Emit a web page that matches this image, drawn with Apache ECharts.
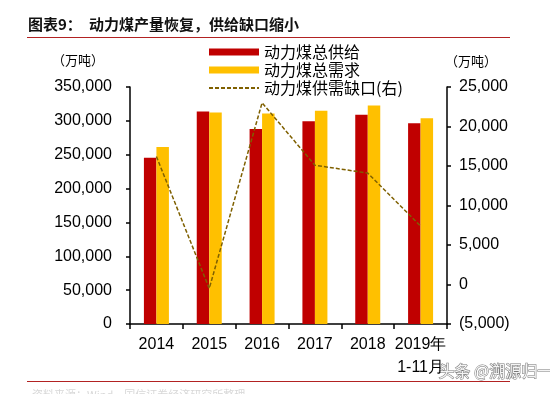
<!DOCTYPE html>
<html><head><meta charset="utf-8">
<script src="https://cdn.jsdelivr.net/npm/echarts@6/dist/echarts.min.js"></script>
<style>html,body{margin:0;padding:0;background:#fff}#c{width:550px;height:394px}</style>
</head><body><div id="c"></div>
<script>
const categories = ['2014','2015','2016','2017','2018','2019年\n1-11月'];
const supply = [245500, 314000, 288000, 299500, 309000, 296500];
const demand = [261500, 312500, 311000, 315000, 322500, 304000];
const gap = [16200, -500, 23000, 15100, 14100, 7400];
const seriesNames = ['动力煤总供给','动力煤总需求','动力煤供需缺口(右)'];

const fmt = v => { const s = Math.abs(v).toLocaleString('en-US'); return v < 0 ? '(' + s + ')' : s; };
const numFont = 'Liberation Sans, Arial, sans-serif';
const cjk = '"Noto Sans CJK SC", sans-serif';

const chart = echarts.init(document.getElementById('c'), null, {renderer:'canvas'});
chart.setOption({
  animation: false,
  backgroundColor: '#fff',
  grid: {left: 130, right: 103, top: 87, bottom: 70},
  legend: {
    orient: 'vertical', left: 203, top: 39, itemWidth: 50, itemHeight: 7, itemGap: 2,
    textStyle: {fontFamily: cjk, fontSize: 16, color: '#000'},
    data: [
      {name: seriesNames[0], icon: 'rect'},
      {name: seriesNames[1], icon: 'rect'},
      {name: seriesNames[2], itemStyle: {opacity: 0}}
    ]
  },
  xAxis: {
    type: 'category', data: categories,
    axisLine: {lineStyle: {color: '#000', width: 1.5}},
    axisTick: {show: true, length: 5, lineStyle: {color: '#000', width: 1.5}},
    axisLabel: {color: '#000', fontSize: 16, fontFamily: numFont, margin: 9, lineHeight: 23, interval: 0}
  },
  yAxis: [
    {type: 'value', min: 0, max: 350000, interval: 50000,
     splitLine: {show: false},
     axisLine: {show: true, lineStyle: {color: '#000', width: 1.5}},
     axisTick: {show: true, length: 4, lineStyle: {color: '#000', width: 1.5}},
     axisLabel: {color: '#000', fontSize: 16, fontFamily: numFont, margin: 18, formatter: fmt}},
    {type: 'value', min: -5000, max: 25000, interval: 5000, position: 'right',
     splitLine: {show: false},
     axisLine: {show: true, lineStyle: {color: '#000', width: 1.5}},
     axisTick: {show: true, length: 4, lineStyle: {color: '#000', width: 1.5}},
     axisLabel: {color: '#000', fontSize: 16, fontFamily: numFont, margin: 12, formatter: fmt}}
  ],
  series: [
    {name: seriesNames[0], type: 'bar', data: supply, barWidth: 12.5, barGap: '0%', itemStyle: {color: '#C00000'}},
    {name: seriesNames[1], type: 'bar', data: demand, barWidth: 12.5, barGap: '0%', itemStyle: {color: '#FFC000'}},
    {name: seriesNames[2], type: 'line', yAxisIndex: 1, data: gap, symbol: 'none',
     itemStyle: {color: '#7F6000'},
     lineStyle: {color: '#7F6000', width: 1.5, type: [4, 2]}}
  ],
  graphic: [
    {type: 'text', left: 28, top: 17, style: {text: '图表9：', font: 'bold 15px ' + cjk, fill: '#111'}},
    {type: 'text', left: 89, top: 17, style: {text: '动力煤产量恢复，供给缺口缩小', font: 'bold 15px ' + cjk, fill: '#111'}},
    {type: 'line', shape: {x1: 27, y1: 37.5, x2: 510, y2: 37.5}, style: {stroke: '#B22222', lineWidth: 1}},
    {type: 'text', left: 52, top: 54, style: {text: '（万吨）', font: '13px ' + cjk, fill: '#000'}},
    {type: 'text', left: 445, top: 55, style: {text: '（万吨）', font: '13px ' + cjk, fill: '#000'}},
    {type: 'line', shape: {x1: 27, y1: 381.5, x2: 510, y2: 381.5}, style: {stroke: '#B22222', lineWidth: 1}},
    {type: 'text', left: 32, top: 389, style: {text: '资料来源：Wind，国信证券经济研究所整理', font: '11px ' + cjk, fill: '#d8d8d8'}},
    {type: 'text', left: 438, top: 362, style: {text: '头条 @溯源归一', font: '16px ' + cjk, fill: '#f4f4f4', stroke: '#777', lineWidth: 1}}
  ]
});
</script></body></html>
